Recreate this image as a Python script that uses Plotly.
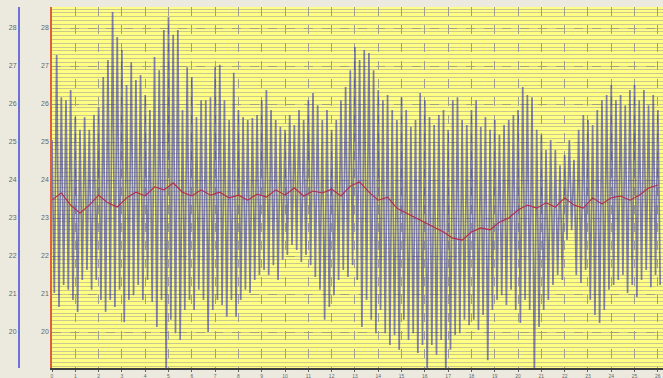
import plotly.graph_objects as go

# upper swings and lower swings of the sensor signal (alternating samples)
peaks = [25.05, 27.29, 26.18, 26.10, 26.37, 25.66, 25.32, 25.66, 25.32, 25.71,
         25.92, 26.71, 27.16, 28.42, 27.76, 27.42, 26.50, 27.10, 26.63, 26.76,
         26.24, 25.84, 27.24, 26.89, 27.95, 28.29, 27.82, 27.95, 25.84, 26.97,
         26.71, 25.66, 26.10, 26.10, 26.18, 26.97, 27.03, 26.10, 25.58, 26.82,
         25.84, 25.66, 25.58, 25.63, 25.71, 26.10, 26.37, 25.84, 25.58, 25.40,
         25.32, 25.71, 25.45, 25.84, 25.58, 26.10, 26.29, 25.97, 25.58, 25.84,
         25.32, 25.58, 26.10, 26.45, 26.89, 27.50, 27.16, 27.42, 27.34, 26.89,
         26.37, 26.10, 26.24, 25.84, 25.58, 26.18, 25.84, 25.40, 25.58, 26.29,
         26.10, 25.66, 25.45, 25.71, 25.84, 25.32, 26.10, 26.18, 25.58, 25.45,
         25.84, 26.10, 25.40, 25.66, 25.32, 25.58, 25.19, 25.45, 25.58, 25.71,
         25.84, 26.45, 26.24, 26.18, 25.32, 25.19, 24.79, 25.05, 24.79, 24.39,
         24.66, 25.05, 24.53, 25.32, 25.71, 25.58, 25.45, 25.84, 26.10, 26.24,
         26.50, 26.10, 26.24, 25.97, 26.37, 26.50, 26.10, 26.37, 25.97, 26.24,
         25.84]
troughs = [21.03, 20.66, 21.24, 21.11, 20.84, 20.53, 21.37, 21.63, 21.11, 21.37,
           20.84, 20.53, 20.84, 20.66, 21.11, 20.26, 20.84, 20.97, 21.24, 20.84,
           21.37, 20.79, 20.13, 20.84, 18.87, 20.32, 19.97, 19.79, 20.58, 20.84,
           20.58, 21.11, 20.84, 20.00, 20.58, 20.84, 20.71, 20.40, 20.84, 20.40,
           20.84, 21.11, 21.03, 21.37, 21.50, 21.63, 21.50, 21.76, 21.37, 21.90,
           22.03, 22.29, 22.16, 21.84, 22.03, 21.76, 21.45, 21.11, 20.32, 20.66,
           20.97, 21.37, 21.63, 21.45, 21.76, 21.37, 20.13, 20.84, 20.32, 19.97,
           20.58, 19.97, 19.66, 19.92, 19.53, 20.32, 19.79, 19.97, 19.45, 19.66,
           18.87, 19.66, 19.40, 19.79, 18.87, 19.53, 19.92, 19.97, 20.32, 20.18,
           20.32, 20.05, 20.45, 19.26, 20.58, 20.84, 20.97, 20.71, 21.11, 20.58,
           20.24, 20.84, 20.58, 18.87, 20.13, 20.58, 20.84, 21.24, 21.50, 21.37,
           22.42, 22.68, 21.50, 21.29, 21.63, 20.84, 20.45, 20.24, 20.58, 21.11,
           21.24, 21.37, 21.50, 21.03, 21.24, 20.92, 21.37, 21.63, 21.18, 21.50,
           21.24]
# moving average (one value every 4 samples)
moving_avg = [23.47, 23.66, 23.34, 23.13, 23.34, 23.60, 23.40, 23.29, 23.53, 23.68,
              23.58, 23.82, 23.74, 23.92, 23.68, 23.58, 23.74, 23.60, 23.68, 23.53,
              23.60, 23.47, 23.63, 23.55, 23.74, 23.60, 23.79, 23.58, 23.71, 23.66,
              23.76, 23.58, 23.84, 23.95, 23.68, 23.47, 23.55, 23.26, 23.13, 23.00,
              22.89, 22.74, 22.63, 22.47, 22.42, 22.63, 22.74, 22.69, 22.89, 23.00,
              23.21, 23.34, 23.26, 23.40, 23.29, 23.53, 23.34, 23.26, 23.53, 23.37,
              23.53, 23.58, 23.47, 23.60, 23.79, 23.87]
y_ticks = [20, 21, 22, 23, 24, 25, 26, 27, 28]
x_ticks = list(range(0, 27))

sample_step = 0.1
avg_every = 4

signal = []
for p, t in zip(peaks, troughs):
    signal.extend([p, t])
sig_x = [i * sample_step for i in range(len(signal))]
avg_x = [j * avg_every * sample_step for j in range(len(moving_avg))]

W, H = 663, 378
left_px = 52
fig = go.Figure()
fig.add_trace(go.Scatter(x=sig_x, y=signal, mode="lines",
                         line=dict(color="rgba(60,60,175,0.64)", width=1.7),
                         showlegend=False, hoverinfo="skip"))
fig.add_trace(go.Scatter(x=avg_x, y=moving_avg, mode="lines",
                         line=dict(color="#b82848", width=1.1),
                         showlegend=False, hoverinfo="skip"))
# dummy trace for the secondary (left) axis
fig.add_trace(go.Scatter(x=[None], y=[None], yaxis="y2", showlegend=False))

yr = [19.053, 28.553]
fig.update_layout(
    width=W, height=H,
    margin=dict(l=0, r=0, t=7, b=10),
    paper_bgcolor="#ECEADF",
    plot_bgcolor="#FFFF84",
    xaxis=dict(domain=[left_px / W, 1], range=[0, 26.22], tickvals=x_ticks,
               showgrid=True, gridcolor="#A0A088", griddash="dash", gridwidth=1,
               showline=True, linecolor="#404040", linewidth=1.5,
               ticks="outside", ticklen=2, tickcolor="#606060",
               ticklabelstandoff=0,
               tickfont=dict(size=5, color="#666666", family="Arial"),
               zeroline=False),
    yaxis=dict(range=yr, tickvals=y_ticks, showgrid=True,
               gridcolor="#A0A088", griddash="dash", gridwidth=1,
               minor=dict(dtick=0.1, showgrid=True, gridcolor="#C8C890",
                          griddash="solid", gridwidth=1),
               showline=True, linecolor="#E0603A", linewidth=1.5,
               ticks="", tickfont=dict(size=7, color="#666666", family="Arial"),
               zeroline=False),
    yaxis2=dict(range=yr, tickvals=y_ticks, overlaying="y", anchor="free",
                position=19 / W, side="left", showgrid=False,
                showline=True, linecolor="#7070D8", linewidth=2,
                ticks="", tickfont=dict(size=7, color="#666666", family="Arial"),
                zeroline=False),
)
fig.write_html("out.html", config={"displayModeBar": False},
               post_script="document.body.style.margin='0';document.body.style.overflow='hidden';")
